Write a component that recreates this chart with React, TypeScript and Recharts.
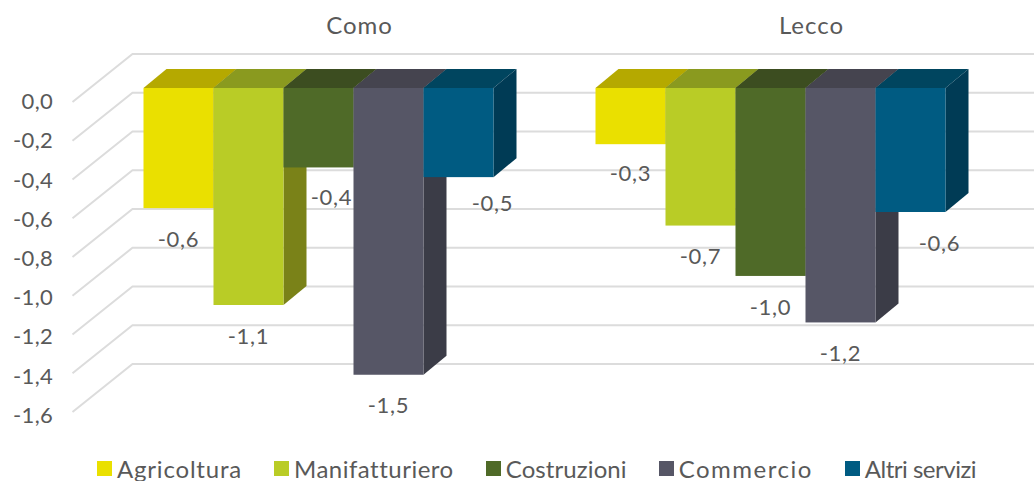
import React from "react"
import { BarChart, Bar, XAxis, YAxis, CartesianGrid, Legend, LabelList } from "recharts"

const categories = ["Como", "Lecco"]
const agricoltura = [-0.62, -0.29]
const manifatturiero = [-1.12, -0.71]
const costruzioni = [-0.41, -0.97]
const commercio = [-1.48, -1.21]
const altriServizi = [-0.46, -0.64]
const yTicks = [0, -0.2, -0.4, -0.6, -0.8, -1, -1.2, -1.4, -1.6]

const chartData = categories.map((name, i) => ({
  name,
  Agricoltura: agricoltura[i],
  Manifatturiero: manifatturiero[i],
  Costruzioni: costruzioni[i],
  Commercio: commercio[i],
  "Altri servizi": altriServizi[i],
}))

const seriesStyles = [
  { key: "Agricoltura", front: "#EAE000", top: "#B5A900", side: "#8F8800" },
  { key: "Manifatturiero", front: "#B9CC26", top: "#8A9A1F", side: "#7A8218" },
  { key: "Costruzioni", front: "#4F6A28", top: "#3C4D20", side: "#34441A" },
  { key: "Commercio", front: "#565666", top: "#45444F", side: "#3B3C47" },
  { key: "Altri servizi", front: "#005B82", top: "#00455F", side: "#003B55" },
]

// the labels that would sit under a taller neighbour get pushed aside
const labelNudges: Record<string, [number, number]> = {
  "Costruzioni-0": [13, -1],
  "Altri servizi-0": [34, -5],
  "Altri servizi-1": [29, 0],
  "Agricoltura-1": [0, -2],
}

// Lato is narrower than the original font, spacing per legend entry makes up for it
const legendSpacing: Record<string, number> = {
  Agricoltura: 0.8,
  Manifatturiero: 0.5,
  Costruzioni: 0.1,
  Commercio: 1.5,
  "Altri servizi": -0.5,
}

const TEXT = "#595959"
const FONT = "Lato, 'Open Sans', sans-serif"
const DEPTH_X = 23
const DEPTH_Y = 19

const formatValue = (value: number) => value.toFixed(1).replace(".", ",")

function Bar3D(props: any) {
  const { x, y, width, height, front, top: topFill, side } = props
  const top = Math.min(y, y + height)
  const bottom = Math.max(y, y + height)
  const right = x + width
  return (
    <g>
      <polygon
        points={`${x},${top} ${x + DEPTH_X},${top - DEPTH_Y} ${right + DEPTH_X},${top - DEPTH_Y} ${right},${top}`}
        fill={topFill}
      />
      <polygon
        points={`${right},${top} ${right + DEPTH_X},${top - DEPTH_Y} ${right + DEPTH_X},${bottom - DEPTH_Y} ${right},${bottom}`}
        fill={side}
      />
      <rect x={x} y={top} width={width} height={bottom - top} fill={front} />
    </g>
  )
}

// gridline as a wall: short slanted floor edge on the left, then along the back
function GridLine3D(props: any) {
  const { x1, x2, y1 } = props
  return (
    <path
      key={props.key ?? y1}
      d={`M${x1 - 19},${y1 + 14} L${x1 + 41},${y1 - 34} L${x2 + 41},${y1 - 34}`}
      fill="none"
      stroke="#DCDCDC"
      strokeWidth={2}
    />
  )
}

function ValueTick({ y, payload }: any) {
  return (
    <text x={53} y={103.5 + (y - 88) * 1.012} fill={TEXT} fontSize={22} letterSpacing={0.3} fontFamily={FONT} textAnchor="end" dominantBaseline="middle">
      {formatValue(payload.value)}
    </text>
  )
}

function CategoryTick({ x, payload }: any) {
  return (
    <text x={x + 42} y={28} fill={TEXT} fontSize={24} letterSpacing={1} fontFamily={FONT} textAnchor="middle" dominantBaseline="middle">
      {payload.value}
    </text>
  )
}

function ValueLabel({ x, y, width, height, value, index, seriesKey }: any) {
  const nudge = labelNudges[`${seriesKey}-${index}`] ?? [0, 0]
  const bottom = Math.max(y, y + height)
  return (
    <text x={x + width / 2 + nudge[0]} y={bottom + 33 + nudge[1]} fill={TEXT} fontSize={22} letterSpacing={0.7} fontFamily={FONT} textAnchor="middle" dominantBaseline="middle">
      {formatValue(value)}
    </text>
  )
}

function ChartLegend({ payload }: any) {
  return (
    <div style={{ display: "flex", gap: 32, paddingLeft: 97, height: 30, alignItems: "center", fontFamily: FONT, fontSize: 24, color: TEXT }}>
      {(payload ?? []).map((item: any) => (
        <span key={item.value} style={{ display: "flex", alignItems: "center", gap: 5, letterSpacing: legendSpacing[item.value], whiteSpace: "nowrap" }}>
          <span style={{ width: 15, height: 15, background: item.color, display: "inline-block" }} />
          {item.value}
        </span>
      ))}
    </div>
  )
}

export default function App() {
  return (
    <div style={{ position: "absolute", left: 0, top: 0, width: 1034, height: 481, background: "#fff", overflow: "hidden" }}>
      <BarChart
        width={1034}
        height={481}
        data={chartData}
        barCategoryGap={52}
        barGap={0}
        margin={{ top: 0, right: 38.5, bottom: 53, left: 0 }}
      >
        <CartesianGrid vertical={false} horizontal={GridLine3D as any} />
        <XAxis dataKey="name" orientation="top" height={88} axisLine={false} tickLine={false} tick={CategoryTick as any} />
        <YAxis domain={[-1.6, 0]} ticks={yTicks} interval={0} width={91.5} axisLine={false} tickLine={false} tick={ValueTick as any} />
        <Legend content={ChartLegend as any} verticalAlign="bottom" itemSorter={null} wrapperStyle={{ bottom: -2 }} />
        {seriesStyles.map((s) => (
          <Bar
            key={s.key}
            dataKey={s.key}
            fill={s.front}
            isAnimationActive={false}
            shape={(p: any) => <Bar3D {...p} front={s.front} top={s.top} side={s.side} />}
          >
            <LabelList dataKey={s.key} content={(p: any) => <ValueLabel {...p} seriesKey={s.key} />} />
          </Bar>
        ))}
      </BarChart>
    </div>
  )
}
